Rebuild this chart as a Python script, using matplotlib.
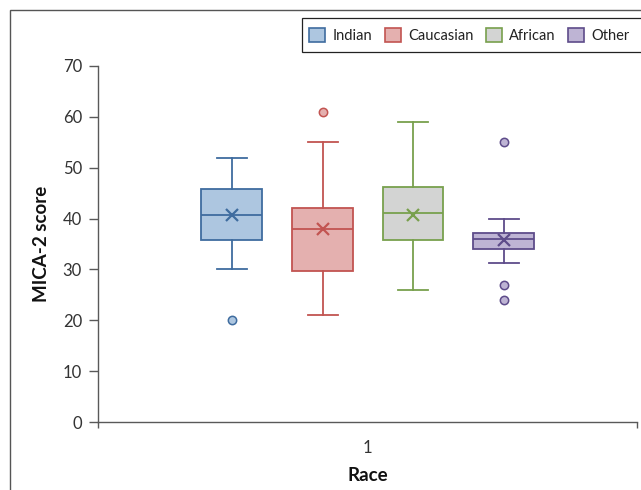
import matplotlib
matplotlib.use("Agg")
import matplotlib.pyplot as plt
from matplotlib.patches import Rectangle, Patch

plt.rcParams['font.family'] = ['Lato', 'DejaVu Sans']

races = ["Indian", "Caucasian", "African", "Other"]
whislo = [30, 21, 26, 31.2]
q1 = [35.8, 29.7, 35.8, 34.0]
med = [40.8, 38.0, 41.0, 36.0]
q3 = [45.8, 42.1, 46.3, 37.2]
whishi = [52, 55, 59, 40]
means = [40.7, 37.9, 40.8, 35.8]
fliers = [[20], [61], [], [55, 27, 24]]

fills = ["#ADC6E0", "#E4B0AF", "#D3D4D3", "#BEB4D4"]
edges = ["#3F6C9F", "#C25451", "#78A04D", "#5E4C8A"]

fig = plt.figure(figsize=(6.41, 4.90), dpi=100)
W, H = 641, 490
ax = fig.add_axes([98 / W, 1 - 422 / H, (637 - 98) / W, (422 - 66) / H])

offsets = [-0.2515, -0.083, 0.0845, 0.253]
positions = [1 + o for o in offsets]

for i in range(4):
    st = [dict(whislo=whislo[i], q1=q1[i], med=med[i], q3=q3[i],
               whishi=whishi[i], mean=means[i], fliers=fliers[i])]
    c = edges[i]
    ax.bxp(st, positions=[positions[i]], widths=0.113, capwidths=0.056,
           patch_artist=True, showmeans=True, manage_ticks=False,
           boxprops=dict(facecolor=fills[i], edgecolor=c, linewidth=1.3),
           medianprops=dict(color=c, linewidth=1.3),
           whiskerprops=dict(color=c, linewidth=1.3),
           capprops=dict(color=c, linewidth=1.3),
           meanprops=dict(marker='x', markeredgecolor=c, markersize=9, markeredgewidth=1.6),
           flierprops=dict(marker='o', markerfacecolor=fills[i], markeredgecolor=c,
                           markersize=6, markeredgewidth=1.1))

ax.set_xlim(0.5, 1.5)
ax.set_ylim(0, 70)
ax.set_yticks(range(0, 71, 10))
ax.set_xticks([1])
ax.set_xticklabels(["1"])
ax.set_xticks([0.5, 1.5], minor=True)
ax.tick_params(axis='x', which='major', length=0, pad=13, labelsize=12, colors='#333333')
ax.tick_params(axis='x', which='minor', length=4.5, width=1, color='#595959')
ax.tick_params(axis='y', length=6.5, width=1, color='#595959', labelsize=12, labelcolor='#333333', pad=5)
for s in ['top', 'right']:
    ax.spines[s].set_visible(False)
for s in ['left', 'bottom']:
    ax.spines[s].set_color('#595959')
    ax.spines[s].set_linewidth(1.0)

ax.set_xlabel("Race", fontsize=13.5, fontweight='bold', labelpad=8, color='#111111')
ax.set_ylabel("MICA-2 score", fontsize=13.5, fontweight='bold', labelpad=9, color='#111111')

# outer border
fig.add_artist(Rectangle((10 / W, -0.1), 1.2, 1 - 10 / H + 0.1, transform=fig.transFigure,
                         fill=False, edgecolor='#555555', linewidth=1.0))
# legend frame (runs off the right edge as in the reference)
fig.add_artist(Rectangle((302 / W, 1 - 52.5 / H), 1.0, 34.5 / H, transform=fig.transFigure,
                         fill=True, facecolor='white', edgecolor='#222222', linewidth=0.9))

handles = [Patch(facecolor=fills[i], edgecolor=edges[i], linewidth=1.2) for i in range(4)]
leg = fig.legend(handles, races, loc='center left', bbox_to_anchor=(302 / W, 1 - 35.3 / H),
                 ncol=4, frameon=False, fontsize=10.5, handlelength=1.1,
                 handleheight=1.1, handletextpad=0.5, columnspacing=0.85,
                 borderpad=0.5, borderaxespad=0, labelcolor='#222222')
leg.set_zorder(5)

fig.savefig("out.png", dpi=100)
